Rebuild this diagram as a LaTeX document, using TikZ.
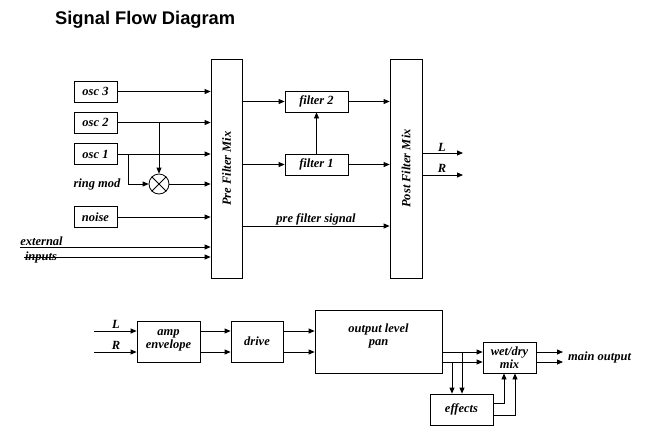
\documentclass[tikz,border=0pt]{standalone}
\usepackage{fontspec}
\setmainfont{Liberation Serif}
\newfontfamily\titlefont{Liberation Sans}
\usetikzlibrary{arrows.meta}
\begin{document}
\begin{tikzpicture}[x=1pt,y=-1pt,
  blk/.style={draw,line width=0.8pt,inner sep=0pt,align=center,
    font=\fontsize{12.5}{13}\selectfont\bfseries\itshape},
  lbl/.style={inner sep=0pt,align=center,
    font=\fontsize{12.5}{13}\selectfont\bfseries\itshape},
  wire/.style={line width=0.8pt},
  sig/.style={wire,-{Triangle[length=6pt,width=5pt]}}]
  \useasboundingbox (0,0) rectangle (650,440);
  \node[anchor=west,inner sep=0pt,font=\titlefont\fontsize{18.3}{20}\selectfont\bfseries] (title) at (55,20) {Signal Flow Diagram};

  \node[blk,minimum width=43,minimum height=21] (osc3) at (95.5,91.5) {osc 3};
  \node[blk,minimum width=43,minimum height=21] (osc2) at (95.5,122.5) {osc 2};
  \node[blk,minimum width=43,minimum height=21] (osc1) at (95.5,154) {osc 1};
  \node[blk,minimum width=43,minimum height=21] (noise) at (95.5,217) {noise};
  \node[draw,wire,circle,minimum size=20,inner sep=0pt] (ring) at (159,184) {};
  \draw[wire] (ring.45) -- (ring.225) (ring.135) -- (ring.315);
  \node[lbl] (ringlbl) at (97,184) {ring mod};
  \node[lbl] (extlbl) at (41.5,241.5) {external};
  \node[lbl] (inplbl) at (41,257.5) {inputs};
  \coordinate (ext) at (20,247);
  \coordinate (inp) at (24,257);
  \coordinate (tap) at (128,154);
  \node[blk,minimum width=31,minimum height=219] (pre) at (226.5,168.5) {};
  \node[lbl,rotate=90] (prelbl) at (pre.center) {Pre Filter Mix};
  \node[blk,minimum width=63,minimum height=21] (f2) at (316.5,101.5) {filter 2};
  \node[blk,minimum width=63,minimum height=21] (f1) at (316.5,164.5) {filter 1};
  \node[blk,minimum width=32,minimum height=219] (post) at (406,168.5) {};
  \node[lbl,rotate=90] (postlbl) at (post.center) {Post Filter Mix};
  \coordinate (Lout) at (463,153);
  \coordinate (Rout) at (463,175);
  \coordinate (bypass) at (316,226);

  \draw[sig] (osc3.east) -- (osc3.east -| pre.west);
  \draw[sig] (osc2.east) -- (osc2.east -| pre.west);
  \draw[sig] (osc1.east) -- (osc1.east -| pre.west);
  \draw[sig] (ring |- osc2.east) -- (ring.north);
  \draw[sig] (tap) |- (ring.west);
  \draw[sig] (ring.east) -- (ring.east -| pre.west);
  \draw[sig] (noise.east) -- (noise.east -| pre.west);
  \draw[sig] (ext) -- (ext -| pre.west);
  \draw[sig] (inp) -- (inp -| pre.west);
  \draw[sig] (pre.east |- f2.west) -- (f2.west);
  \draw[sig] (pre.east |- f1.west) -- (f1.west);
  \draw[sig] (f1.north) -- (f2.south);
  \draw[sig] (f2.east) -- (f2.east -| post.west);
  \draw[sig] (f1.east) -- (f1.east -| post.west);
  \draw[sig] (pre.east |- bypass) -- (bypass -| post.west);
  \node[lbl] (bypasslbl) at (316,219) {pre filter signal};
  \draw[sig] (post.east |- Lout) -- (Lout);
  \draw[sig] (post.east |- Rout) -- (Rout);
  \node[lbl] (Loutlbl) at (442,147) {L};
  \node[lbl] (Routlbl) at (442,168) {R};

  \coordinate (Lin) at (94,331);
  \coordinate (Rin) at (94,352);
  \node[lbl] (Linlbl) at (116,324) {L};
  \node[lbl] (Rinlbl) at (116,345.5) {R};
  \node[blk,minimum width=63,minimum height=41] (amp) at (168.5,341.5) {};
  \node[lbl] (amplbl) at (168.5,340) {amp\\envelope};
  \node[blk,minimum width=52,minimum height=41] (drive) at (257,341.5) {drive};
  \node[blk,minimum width=127,minimum height=63] (out) at (378.5,341.5) {};
  \node[lbl] (outlbl) at (378.5,336) {output level\\pan};
  \node[blk,minimum width=53,minimum height=31] (wet) at (509.5,357.5) {wet/dry\\mix};
  \node[blk,minimum width=63,minimum height=31] (fx) at (461.5,409.5) {effects};
  \coordinate (mainL) at (563,352);
  \coordinate (mainR) at (563,362);
  \node[lbl,anchor=west] (mainlbl) at (568,357) {main output};
  \coordinate (tapR) at (452,362);
  \coordinate (tapL) at (462,352);

  \draw[sig] (Lin) -- (Lin -| amp.west);
  \draw[sig] (Rin) -- (Rin -| amp.west);
  \draw[sig] (amp.east |- Lin) -- (drive.west |- Lin);
  \draw[sig] (amp.east |- Rin) -- (drive.west |- Rin);
  \draw[sig] (drive.east |- Lin) -- (out.west |- Lin);
  \draw[sig] (drive.east |- Rin) -- (out.west |- Rin);
  \draw[sig] (out.east |- mainL) -- (wet.west |- mainL);
  \draw[sig] (out.east |- mainR) -- (wet.west |- mainR);
  \draw[sig] (tapR) -- (tapR |- fx.north);
  \draw[sig] (tapL) -- (tapL |- fx.north);
  \draw[sig] ([yshift=6.5pt]fx.east) -| ([xshift=-5.5pt]wet.south);
  \draw[sig] ([yshift=-5.5pt]fx.east) -| ([xshift=5.5pt]wet.south);
  \draw[sig] (wet.east |- mainL) -- (mainL);
  \draw[sig] (wet.east |- mainR) -- (mainR);
\end{tikzpicture}
\end{document}
